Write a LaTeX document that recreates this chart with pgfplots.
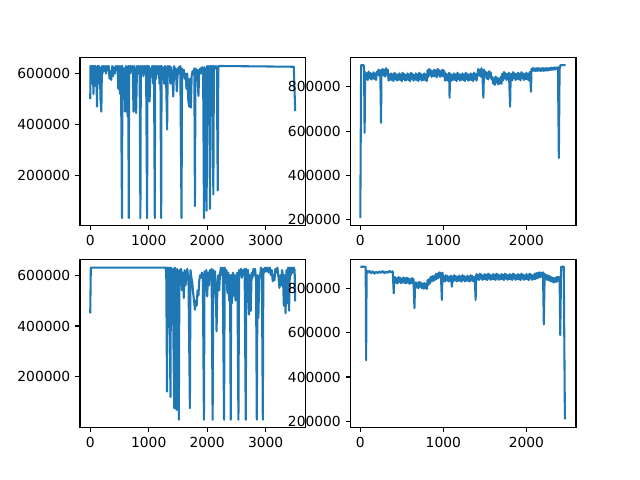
\documentclass[border=0pt]{standalone}
\usepackage{pgfplots}
\pgfplotsset{compat=1.18}
\usepackage{fontspec}
\setmainfont{DejaVu Sans}
\definecolor{mplblue}{RGB}{31,119,180}
\pgfplotsset{
  mpl/.style={
    scale only axis, width=2.2545in, height=1.68in, anchor=south west,
    axis line style={line width=0.8pt, black},
    every tick/.style={line width=0.8pt, black},
    tick align=outside, major tick length=3.5pt,
    xtick pos=left, ytick pos=left,
    tick label style={font=\fontsize{10}{12}\selectfont},
    scaled ticks=false,
    /pgf/number format/.cd, fixed, 1000 sep={}, assume math mode=true,
  },
  line/.style={mplblue, line width=1.5pt, line join=round, mark=none},
}
\begin{document}
\begin{tikzpicture}
\path[use as bounding box, fill=white] (0,0) rectangle (6.4in,4.8in);
% top left
\begin{axis}[mpl, at={(0.8in,2.544in)}, xmin=-175, xmax=3680, ymin=1600, ymax=663000,
  xtick={0,1000,2000,3000}, ytick={200000,400000,600000}]
\addplot[line] table {
0 500000
5 630000
15 600000
25 630000
35 560000
45 630000
55 520000
65 630000
75 600000
85 630000
95 550000
105 625000
115 470000
125 630000
135 590000
145 630000
155 560000
165 625000
175 500000
190 450000
200 630000
210 600000
225 630000
240 610000
255 630000
270 600000
285 630000
300 615000
315 630000
330 580000
345 610000
360 575000
375 630000
390 590000
405 625000
420 600000
435 630000
450 615000
465 630000
480 540000
495 630000
510 520000
525 630000
543 31000
550 630000
565 560000
580 620000
595 450000
610 630000
625 500000
640 430000
650 630000
658 31000
665 630000
680 600000
695 630000
710 610000
725 630000
740 450000
755 630000
770 520000
785 445000
800 630000
815 600000
830 630000
845 610000
858 31000
865 630000
880 600000
895 630000
910 590000
925 630000
940 600000
955 630000
972 31000
980 630000
990 550000
1000 630000
1015 490000
1030 620000
1045 600000
1060 630000
1075 560000
1090 630000
1104 31000
1110 630000
1125 580000
1140 630000
1155 600000
1170 630000
1185 560000
1200 630000
1213 31000
1220 630000
1235 600000
1250 625000
1265 560000
1280 630000
1295 600000
1315 380000
1325 630000
1340 610000
1355 630000
1370 560000
1385 625000
1400 600000
1420 510000
1435 630000
1450 580000
1465 620000
1480 530000
1495 600000
1510 625000
1525 600000
1540 630000
1561 31000
1570 620000
1585 600000
1600 615000
1615 580000
1630 600000
1645 540000
1660 600000
1675 500000
1690 470000
1705 580000
1720 466000
1735 590000
1750 610000
1765 600000
1780 620000
1790 78000
1800 620000
1815 600000
1830 615000
1850 512000
1865 610000
1880 620000
1895 600000
1910 625000
1930 620000
1945 31000
1955 625000
1970 600000
1990 60000
2000 630000
2015 610000
2030 630000
2048 68000
2060 630000
2075 620000
2090 630000
2105 124000
2115 630000
2130 620000
2150 630000
2165 615000
2180 140000
2190 630000
2200 630000
3480 627000
3505 452000
};
\end{axis}
% top right
\begin{axis}[mpl, at={(3.505in,2.544in)}, xmin=-118, xmax=2597, ymin=174000, ymax=931000,
  xtick={0,1000,2000}, ytick={200000,400000,600000,800000}]
\addplot[line] table {
0 208000
10 897000
40 897000
45 880000
52 592000
58 845000
60 865000
70 835000
80 860000
90 830000
100 868000
110 840000
120 862000
130 832000
140 858000
150 836000
160 865000
170 835000
180 860000
190 830000
200 868000
210 855000
220 877000
230 847000
240 873000
250 637000
255 875000
260 855000
270 880000
280 850000
290 875000
300 845000
310 883000
320 855000
330 877000
340 827000
350 855000
360 831000
370 860000
380 830000
390 855000
400 825000
410 863000
420 835000
430 857000
440 827000
450 853000
460 831000
470 860000
480 830000
490 855000
500 825000
510 863000
520 835000
530 857000
540 827000
550 853000
560 831000
570 860000
580 830000
590 855000
600 825000
610 863000
620 835000
630 857000
640 827000
650 853000
660 831000
670 860000
680 830000
690 855000
700 825000
710 863000
720 835000
730 857000
740 827000
750 853000
760 831000
770 860000
780 830000
790 855000
800 825000
810 874000
820 844000
830 880000
840 852000
850 874000
860 844000
870 870000
880 848000
890 877000
900 847000
910 872000
920 842000
930 880000
940 852000
950 874000
960 844000
970 870000
980 848000
990 877000
1000 847000
1010 872000
1020 827000
1030 860000
1040 830000
1050 855000
1060 825000
1070 863000
1075 750000
1080 835000
1090 857000
1100 827000
1110 853000
1120 831000
1130 860000
1140 830000
1150 855000
1160 825000
1170 863000
1180 835000
1190 857000
1200 827000
1210 853000
1220 831000
1230 860000
1240 830000
1250 855000
1260 825000
1270 863000
1280 835000
1290 857000
1300 827000
1310 853000
1320 831000
1330 860000
1340 830000
1350 855000
1360 825000
1370 863000
1380 835000
1390 857000
1400 827000
1410 853000
1420 880000
1430 850000
1440 875000
1450 845000
1460 883000
1470 855000
1482 750000
1490 877000
1500 851000
1510 867000
1520 837000
1530 862000
1540 832000
1550 870000
1560 842000
1570 864000
1580 834000
1590 843000
1600 813000
1610 838000
1620 808000
1630 846000
1640 818000
1650 840000
1660 810000
1670 836000
1680 814000
1690 843000
1700 813000
1710 858000
1720 828000
1730 866000
1740 838000
1750 860000
1760 830000
1770 856000
1780 834000
1790 863000
1804 710000
1810 833000
1820 858000
1830 828000
1840 866000
1850 838000
1860 860000
1870 830000
1880 856000
1890 834000
1900 863000
1910 833000
1920 858000
1930 828000
1940 866000
1950 838000
1960 860000
1970 830000
1980 856000
1990 834000
2000 863000
2010 833000
2020 858000
2030 828000
2040 866000
2048 838000
2055 777000
2062 880000
2070 870000
2080 884000
2090 872000
2100 882000
2110 870000
2120 883000
2130 871000
2140 884000
2150 873000
2160 882000
2170 870000
2180 883000
2190 872000
2200 884000
2210 871000
2220 882000
2230 873000
2240 884000
2250 872000
2260 883000
2270 874000
2280 884000
2290 875000
2300 886000
2310 876000
2320 885000
2330 877000
2340 887000
2350 878000
2360 886000
2370 879000
2380 888000
2391 479000
2400 880000
2410 897000
2474 897000
};
\end{axis}
% bottom left
\begin{axis}[mpl, at={(0.8in,0.528in)}, xmin=-175, xmax=3680, ymin=1600, ymax=663000,
  xtick={0,1000,2000,3000}, ytick={200000,400000,600000}]
\addplot[line] table {
0 450000
10 630000
1290 630000
1300 600000
1313 142000
1320 630000
1335 590000
1350 630000
1372 120000
1380 630000
1395 600000
1410 625000
1435 76000
1445 630000
1460 600000
1475 70000
1485 625000
1500 590000
1515 31000
1525 620000
1540 560000
1555 625000
1570 540000
1585 610000
1600 510000
1615 620000
1630 560000
1645 600000
1660 625000
1680 580000
1704 76000
1715 620000
1730 590000
1745 570000
1760 530000
1775 500000
1790 464000
1805 500000
1820 480000
1835 540000
1850 520000
1865 580000
1880 600000
1895 590000
1910 610000
1925 600000
1944 31000
1955 615000
1970 600000
1985 620000
2000 517000
2015 610000
2030 560000
2045 620000
2060 590000
2075 625000
2093 31000
2105 620000
2120 600000
2135 615000
2150 500000
2160 379000
2175 560000
2190 600000
2205 540000
2220 610000
2235 630000
2250 600000
2265 630000
2288 31000
2300 630000
2315 580000
2330 620000
2345 530000
2360 610000
2375 500000
2390 600000
2402 31000
2410 600000
2425 490000
2440 610000
2455 520000
2470 600000
2485 500000
2500 590000
2515 610000
2534 31000
2545 620000
2560 600000
2575 625000
2590 590000
2605 620000
2620 600000
2640 625000
2659 31000
2670 625000
2685 600000
2700 620000
2715 445000
2730 600000
2745 460000
2760 610000
2775 590000
2790 625000
2805 600000
2820 625000
2835 580000
2848 31000
2860 600000
2875 432000
2890 590000
2905 600000
2920 630000
2935 600000
2951 31000
2960 625000
2975 610000
2990 630000
3010 615000
3030 630000
3050 610000
3070 630000
3090 600000
3105 620000
3120 576000
3135 600000
3150 580000
3165 625000
3180 610000
3200 630000
3220 590000
3235 550000
3250 600000
3265 560000
3280 620000
3295 600000
3310 480000
3325 600000
3340 450000
3355 620000
3370 490000
3385 630000
3400 460000
3415 630000
3430 600000
3445 630000
3460 610000
3480 630000
3495 620000
3505 497000
};
\end{axis}
% bottom right
\begin{axis}[mpl, at={(3.505in,0.528in)}, xmin=-118, xmax=2597, ymin=174000, ymax=931000,
  xtick={0,1000,2000}, ytick={200000,400000,600000,800000}]
\addplot[line] table {
0 897000
65 897000
70 476000
76 880000
90 870000
110 878000
130 868000
150 876000
170 866000
190 874000
210 868000
230 876000
250 870000
270 877000
290 868000
310 875000
330 870000
350 878000
370 872000
390 876000
403 777000
410 850000
420 849000
430 825000
440 845000
450 822000
460 851000
470 829000
480 847000
490 823000
500 843000
510 826000
520 849000
530 825000
540 845000
550 822000
560 848000
570 826000
580 844000
590 820000
600 840000
610 823000
620 846000
630 822000
640 842000
652 710000
660 824000
670 827000
680 803000
690 823000
700 800000
710 829000
720 807000
730 825000
740 801000
750 821000
760 798000
770 824000
780 800000
790 820000
800 797000
810 837000
820 815000
830 842000
840 822000
850 852000
860 832000
870 855000
880 833000
890 855000
900 838000
910 865000
920 842000
930 866000
940 846000
950 872000
960 850000
970 870000
982 747000
990 870000
1000 833000
1010 853000
1020 830000
1030 859000
1040 837000
1050 855000
1060 831000
1070 851000
1080 834000
1090 857000
1103 807000
1110 853000
1120 830000
1130 859000
1140 837000
1150 855000
1160 831000
1170 851000
1180 834000
1190 857000
1200 833000
1210 853000
1220 830000
1230 859000
1240 837000
1250 855000
1260 831000
1270 851000
1280 834000
1290 857000
1300 833000
1310 853000
1320 830000
1330 859000
1340 837000
1350 855000
1360 831000
1370 851000
1380 834000
1389 747000
1395 857000
1400 864000
1410 840000
1420 860000
1430 837000
1440 866000
1450 844000
1460 862000
1470 838000
1480 858000
1490 841000
1500 864000
1510 840000
1520 860000
1530 837000
1540 866000
1550 844000
1560 862000
1570 838000
1580 858000
1590 841000
1600 864000
1610 840000
1620 860000
1630 837000
1640 866000
1650 844000
1660 862000
1670 838000
1680 858000
1690 841000
1700 864000
1710 840000
1720 860000
1730 837000
1740 866000
1750 844000
1760 862000
1770 838000
1780 858000
1790 841000
1800 864000
1810 840000
1820 860000
1830 837000
1840 866000
1850 844000
1860 862000
1870 838000
1880 858000
1890 841000
1900 864000
1910 840000
1920 860000
1930 837000
1940 866000
1950 844000
1960 862000
1970 838000
1980 858000
1990 841000
2000 864000
2010 840000
2020 860000
2030 837000
2040 866000
2050 844000
2060 862000
2070 838000
2080 858000
2090 841000
2100 866000
2110 842000
2120 868000
2130 845000
2140 870000
2150 848000
2160 872000
2170 850000
2180 870000
2190 852000
2200 872000
2210 637000
2220 865000
2230 842000
2240 860000
2250 838000
2260 858000
2270 836000
2280 855000
2290 832000
2300 850000
2310 830000
2320 848000
2330 826000
2340 845000
2350 828000
2360 850000
2370 830000
2380 852000
2390 836000
2400 850000
2408 589000
2418 897000
2450 897000
2464 209000
};
\end{axis}
\end{tikzpicture}
\end{document}
